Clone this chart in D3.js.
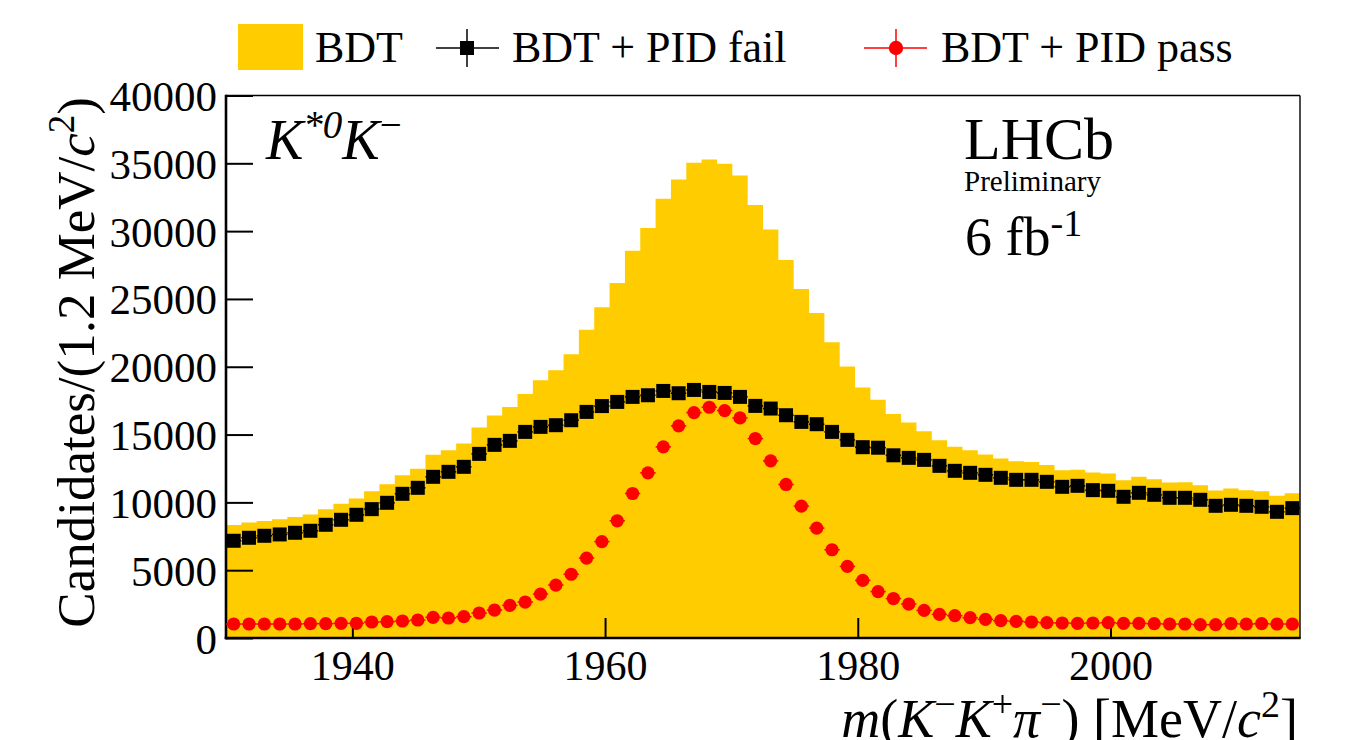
<!DOCTYPE html>
<html>
<head>
<meta charset="utf-8">
<script src="https://cdn.jsdelivr.net/npm/d3@7"></script>
<style>
  body { margin: 0; background: #fff; }
  svg { display: block; }
  text { font-family: "Liberation Serif", "Times New Roman", Times, serif; fill: #000; }
</style>
</head>
<body>
<svg id="chart" width="1347" height="740"></svg>
<script>
// Binning of m(K- K+ pi-) in MeV/c^2
const massLow = 1930, massHigh = 2015, nBins = 70;

// Candidates per bin after the BDT selection
const bdtAll = [
  8324, 8520, 8618, 8765, 8913, 9110, 9502, 9895, 10288, 10828,
  11344, 12007, 12474, 13503, 13848, 14339, 15518, 16402, 17040, 17998,
  19004, 19741, 20919, 22737, 24381, 26173, 28557, 30227, 32386, 33810,
  35040, 35283, 34965, 34105, 31918, 30128, 27869, 25730, 23962, 21803,
  20011, 18467, 17570, 16520, 15888, 15248, 14585, 14093, 13848, 13529,
  13233, 13037, 12986, 12765, 12375, 12400, 12204, 12130, 11638, 11884,
  11712, 11467, 11491, 11270, 10877, 11025, 10902, 10828, 10485, 10681
];

// BDT + PID requirement failed
const pidFail = [
  7170, 7390, 7537, 7636, 7759, 7906, 8348, 8716, 9085, 9502,
  9969, 10632, 11074, 11884, 12253, 12621, 13576, 14241, 14535, 15198,
  15567, 15690, 16058, 16672, 17100, 17408, 17777, 17899, 18217, 18047,
  18291, 18144, 18070, 17777, 17114, 16918, 16426, 15935, 15763, 15198,
  14609, 14069, 14030, 13470, 13283, 13135, 12693, 12327, 12179, 12032,
  11811, 11663, 11663, 11516, 11147, 11221, 10902, 10853, 10411, 10705,
  10558, 10337, 10337, 10190, 9747, 9821, 9747, 9673, 9305, 9576
];

// BDT + PID requirement passed
const pidPass = [
  1031, 1031, 1031, 1031, 1031, 1056, 1056, 1080, 1080, 1179,
  1203, 1252, 1326, 1522, 1473, 1571, 1842, 2062, 2406, 2652,
  3241, 3904, 4700, 5893, 7110, 8643, 10656, 12179, 14093, 15641,
  16623, 17015, 16770, 16230, 14707, 13062, 11320, 9723, 8103, 6507,
  5279, 4248, 3425, 2910, 2505, 2038, 1743, 1645, 1497, 1375,
  1277, 1228, 1179, 1129, 1105, 1080, 1105, 1129, 1080, 1080,
  1056, 1031, 1031, 982, 982, 1056, 1031, 1056, 1031, 1031
];

const xMajorTicks = [1940, 1960, 1980, 2000];
const xMinorTicks = [1935, 1945, 1950, 1955, 1965, 1970, 1975, 1985, 1990, 1995, 2005, 2010];
const yMajorTicks = [0, 5000, 10000, 15000, 20000, 25000, 30000, 35000, 40000];
const yMinorTicks = d3.range(1000, 40000, 1000).filter(v => v % 5000 !== 0);

const legendLabels = ["BDT", "BDT + PID fail", "BDT + PID pass"];

const colFill = "#ffcc00", colFail = "#000000", colPass = "#ff0000";

const svg = d3.select("#chart");
svg.append("rect").attr("width", 1347).attr("height", 740).attr("fill", "#fff");

const frame = { left: 226, right: 1300, top: 95.5, bottom: 638 };
const x = d3.scaleLinear().domain([massLow, massHigh]).range([frame.left, frame.right]);
const y = d3.scaleLinear().domain([0, 40000]).range([frame.bottom, frame.top]);

const binW = (massHigh - massLow) / nBins;
const bins = d3.range(nBins).map(i => ({
  lo: massLow + i * binW,
  hi: massLow + (i + 1) * binW,
  c: massLow + (i + 0.5) * binW
}));

// Filled step histogram
const stepPts = [];
bins.forEach((b, i) => { stepPts.push([b.lo, bdtAll[i]]); stepPts.push([b.hi, bdtAll[i]]); });
const area = d3.area().x(d => x(d[0])).y0(y(0)).y1(d => y(d[1]));
svg.append("path").datum(stepPts).attr("d", area).attr("fill", colFill);

// Axes with inward ticks
const gy = svg.append("g").attr("transform", `translate(${frame.left},0)`);
gy.call(d3.axisLeft(y).tickValues(yMinorTicks).tickSize(-13.5).tickFormat(""));
gy.call(d3.axisLeft(y).tickValues(yMajorTicks).tickSize(-27).tickPadding(9).tickFormat(d3.format("d")));
gy.selectAll(".domain").remove();
gy.selectAll("line").attr("stroke", "#000").attr("stroke-width", 2);
gy.selectAll("text").attr("font-size", 43).attr("dy", null).attr("y", 15)
  .style("font-family", "'Liberation Serif', 'Times New Roman', serif");

const gx = svg.append("g").attr("transform", `translate(0,${frame.bottom})`);
gx.call(d3.axisBottom(x).tickValues(xMinorTicks).tickSize(-10).tickFormat(""));
gx.call(d3.axisBottom(x).tickValues(xMajorTicks).tickSize(-20).tickFormat(d3.format("d")));
gx.selectAll(".domain").remove();
gx.selectAll("line").attr("stroke", "#000").attr("stroke-width", 2);
gx.selectAll("text").attr("font-size", 42).attr("dy", null).attr("y", 42)
  .style("font-family", "'Liberation Serif', 'Times New Roman', serif");

// Frame
svg.append("line").attr("x1", frame.left).attr("x2", frame.right).attr("y1", frame.top).attr("y2", frame.top)
  .attr("stroke", "#000").attr("stroke-width", 1.4);
svg.append("line").attr("x1", frame.right).attr("x2", frame.right).attr("y1", frame.top).attr("y2", frame.bottom)
  .attr("stroke", "#000").attr("stroke-width", 1.4);
svg.append("line").attr("x1", frame.left).attr("x2", frame.left).attr("y1", frame.top - 0.7).attr("y2", frame.bottom + 1.2)
  .attr("stroke", "#000").attr("stroke-width", 2.6);
svg.append("line").attr("x1", frame.left - 1.3).attr("x2", frame.right + 0.7).attr("y1", frame.bottom).attr("y2", frame.bottom)
  .attr("stroke", "#000").attr("stroke-width", 2.6);

// Data points with bin-width and Poisson error bars
function drawPoints(values, color, shape) {
  const g = svg.append("g");
  const data = bins.map((b, i) => ({ b, v: values[i] }));
  g.selectAll("line.h").data(data).join("line")
    .attr("x1", d => x(d.b.lo)).attr("x2", d => x(d.b.hi))
    .attr("y1", d => y(d.v)).attr("y2", d => y(d.v))
    .attr("stroke", color).attr("stroke-width", 1.5);
  g.selectAll("line.v").data(data).join("line")
    .attr("x1", d => x(d.b.c)).attr("x2", d => x(d.b.c))
    .attr("y1", d => y(d.v - Math.sqrt(d.v))).attr("y2", d => y(d.v + Math.sqrt(d.v)))
    .attr("stroke", color).attr("stroke-width", 1.5);
  if (shape === "square") {
    g.selectAll("rect").data(data).join("rect")
      .attr("x", d => x(d.b.c) - 7).attr("y", d => y(d.v) - 7)
      .attr("width", 14).attr("height", 14).attr("fill", color);
  } else {
    g.selectAll("circle").data(data).join("circle")
      .attr("cx", d => x(d.b.c)).attr("cy", d => y(d.v)).attr("r", 6.6).attr("fill", color);
  }
}
drawPoints(pidFail, colFail, "square");
drawPoints(pidPass, colPass, "circle");

// Legend
const lg = svg.append("g");
lg.append("rect").attr("x", 238).attr("y", 24).attr("width", 65).attr("height", 46).attr("fill", colFill);
lg.append("text").attr("x", 315).attr("y", 62).attr("font-size", 44).text(legendLabels[0]);

lg.append("line").attr("x1", 436).attr("x2", 499).attr("y1", 48).attr("y2", 48).attr("stroke", colFail).attr("stroke-width", 1.5);
lg.append("line").attr("x1", 467).attr("x2", 467).attr("y1", 29).attr("y2", 67).attr("stroke", colFail).attr("stroke-width", 1.5);
lg.append("rect").attr("x", 460).attr("y", 41).attr("width", 14).attr("height", 14).attr("fill", colFail);
lg.append("text").attr("x", 512).attr("y", 62).attr("font-size", 44).text(legendLabels[1]);

lg.append("line").attr("x1", 864).attr("x2", 927).attr("y1", 48).attr("y2", 48).attr("stroke", colPass).attr("stroke-width", 1.5);
lg.append("line").attr("x1", 896).attr("x2", 896).attr("y1", 29).attr("y2", 67).attr("stroke", colPass).attr("stroke-width", 1.5);
lg.append("circle").attr("cx", 896).attr("cy", 48).attr("r", 7.2).attr("fill", colPass);
lg.append("text").attr("x", 941).attr("y", 62).attr("font-size", 44).text(legendLabels[2]);

// Decay channel label
const ch = svg.append("text").attr("x", 266).attr("y", 159).attr("font-size", 56);
ch.append("tspan").attr("font-style", "italic").text("K");
ch.append("tspan").attr("font-style", "italic").attr("font-size", 39).attr("dy", -21).text("*0");
ch.append("tspan").attr("font-style", "italic").attr("dy", 21).text("K");
ch.append("tspan").attr("font-size", 39).attr("dy", -21).text("\u2212");

// Experiment labels
svg.append("text").attr("x", 964).attr("y", 159).attr("font-size", 60).text("LHCb");
svg.append("text").attr("x", 964).attr("y", 190.5).attr("font-size", 29).text("Preliminary");
const lumi = svg.append("text").attr("x", 965).attr("y", 255).attr("font-size", 54);
lumi.append("tspan").text("6 fb");
lumi.append("tspan").attr("font-size", 38).attr("dy", -19).text("-1");

// Axis titles
const xt = svg.append("text").attr("x", 1298).attr("y", 737).attr("font-size", 54).attr("text-anchor", "end");
xt.append("tspan").attr("font-style", "italic").text("m");
xt.append("tspan").text("(");
xt.append("tspan").attr("font-style", "italic").text("K");
xt.append("tspan").attr("font-size", 38).attr("dy", -20).text("\u2212");
xt.append("tspan").attr("font-style", "italic").attr("dy", 20).text("K");
xt.append("tspan").attr("font-size", 38).attr("dy", -20).text("+");
xt.append("tspan").attr("font-style", "italic").attr("dy", 20).text("\u03c0");
xt.append("tspan").attr("font-size", 38).attr("dy", -20).text("\u2212");
xt.append("tspan").attr("dy", 20).text(") [MeV/");
xt.append("tspan").attr("font-style", "italic").text("c");
xt.append("tspan").attr("font-size", 38).attr("dy", -20).text("2");
xt.append("tspan").attr("dy", 20).text("]");

const yt = svg.append("text").attr("transform", "translate(94,97) rotate(-90)")
  .attr("font-size", 53).attr("text-anchor", "end");
yt.append("tspan").text("Candidates/(1.2 MeV/");
yt.append("tspan").attr("font-style", "italic").text("c");
yt.append("tspan").attr("font-size", 37).attr("dy", -20).text("2");
yt.append("tspan").attr("dy", 20).text(")");
</script>
</body>
</html>
